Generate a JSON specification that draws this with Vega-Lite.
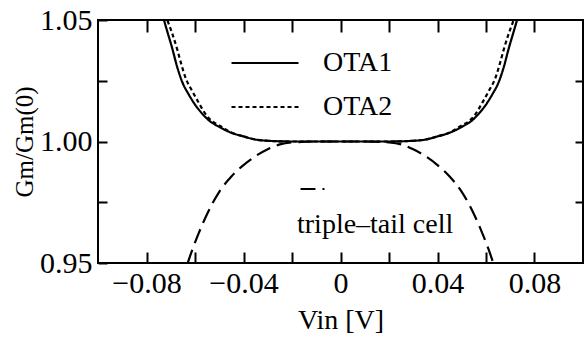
{
  "$schema": "https://vega.github.io/schema/vega-lite/v6.json",
  "width": 485,
  "height": 243,
  "autosize": "none",
  "padding": {"left": 98, "top": 20, "right": 1, "bottom": 75},
  "background": "white",
  "config": {
    "view": {"stroke": "black", "strokeWidth": 2},
    "font": "Liberation Serif",
    "axis": {"grid": false, "domain": false, "titleFontWeight": "normal"}
  },
  "datasets": {
    "curves": [
      {"series": "OTA1", "vin": -0.075, "gm": 1.058},
      {"series": "OTA1", "vin": -0.0728, "gm": 1.05},
      {"series": "OTA1", "vin": -0.0712, "gm": 1.0445},
      {"series": "OTA1", "vin": -0.0694, "gm": 1.0384},
      {"series": "OTA1", "vin": -0.0675, "gm": 1.0312},
      {"series": "OTA1", "vin": -0.0653, "gm": 1.0246},
      {"series": "OTA1", "vin": -0.0625, "gm": 1.0192},
      {"series": "OTA1", "vin": -0.06, "gm": 1.0152},
      {"series": "OTA1", "vin": -0.0575, "gm": 1.012},
      {"series": "OTA1", "vin": -0.0544, "gm": 1.0088},
      {"series": "OTA1", "vin": -0.05, "gm": 1.006},
      {"series": "OTA1", "vin": -0.045, "gm": 1.0036},
      {"series": "OTA1", "vin": -0.04, "gm": 1.0021},
      {"series": "OTA1", "vin": -0.035, "gm": 1.0008},
      {"series": "OTA1", "vin": -0.03, "gm": 1.0003},
      {"series": "OTA1", "vin": -0.02, "gm": 1.0},
      {"series": "OTA1", "vin": -0.01, "gm": 1.0},
      {"series": "OTA1", "vin": 0, "gm": 1.0},
      {"series": "OTA1", "vin": 0.01, "gm": 1.0},
      {"series": "OTA1", "vin": 0.02, "gm": 1.0},
      {"series": "OTA1", "vin": 0.03, "gm": 1.0003},
      {"series": "OTA1", "vin": 0.035, "gm": 1.0008},
      {"series": "OTA1", "vin": 0.04, "gm": 1.0021},
      {"series": "OTA1", "vin": 0.045, "gm": 1.0036},
      {"series": "OTA1", "vin": 0.05, "gm": 1.006},
      {"series": "OTA1", "vin": 0.0544, "gm": 1.0088},
      {"series": "OTA1", "vin": 0.0575, "gm": 1.012},
      {"series": "OTA1", "vin": 0.06, "gm": 1.0152},
      {"series": "OTA1", "vin": 0.0625, "gm": 1.0192},
      {"series": "OTA1", "vin": 0.0653, "gm": 1.0246},
      {"series": "OTA1", "vin": 0.0675, "gm": 1.0312},
      {"series": "OTA1", "vin": 0.0694, "gm": 1.0384},
      {"series": "OTA1", "vin": 0.0712, "gm": 1.0445},
      {"series": "OTA1", "vin": 0.0728, "gm": 1.05},
      {"series": "OTA1", "vin": 0.075, "gm": 1.058},

      {"series": "OTA2", "vin": -0.074, "gm": 1.058},
      {"series": "OTA2", "vin": -0.0714, "gm": 1.05},
      {"series": "OTA2", "vin": -0.0694, "gm": 1.0445},
      {"series": "OTA2", "vin": -0.0673, "gm": 1.0378},
      {"series": "OTA2", "vin": -0.0657, "gm": 1.032},
      {"series": "OTA2", "vin": -0.064, "gm": 1.0265},
      {"series": "OTA2", "vin": -0.061, "gm": 1.0205},
      {"series": "OTA2", "vin": -0.0585, "gm": 1.016},
      {"series": "OTA2", "vin": -0.055, "gm": 1.0104},
      {"series": "OTA2", "vin": -0.0531, "gm": 1.0085},
      {"series": "OTA2", "vin": -0.05, "gm": 1.0066},
      {"series": "OTA2", "vin": -0.045, "gm": 1.0037},
      {"series": "OTA2", "vin": -0.04, "gm": 1.0021},
      {"series": "OTA2", "vin": -0.035, "gm": 1.0008},
      {"series": "OTA2", "vin": -0.03, "gm": 1.0003},
      {"series": "OTA2", "vin": -0.02, "gm": 1.0},
      {"series": "OTA2", "vin": -0.01, "gm": 1.0},
      {"series": "OTA2", "vin": 0, "gm": 1.0},
      {"series": "OTA2", "vin": 0.01, "gm": 1.0},
      {"series": "OTA2", "vin": 0.02, "gm": 1.0},
      {"series": "OTA2", "vin": 0.03, "gm": 1.0003},
      {"series": "OTA2", "vin": 0.035, "gm": 1.0008},
      {"series": "OTA2", "vin": 0.04, "gm": 1.0021},
      {"series": "OTA2", "vin": 0.045, "gm": 1.0037},
      {"series": "OTA2", "vin": 0.05, "gm": 1.0066},
      {"series": "OTA2", "vin": 0.0531, "gm": 1.0085},
      {"series": "OTA2", "vin": 0.055, "gm": 1.0104},
      {"series": "OTA2", "vin": 0.0585, "gm": 1.016},
      {"series": "OTA2", "vin": 0.061, "gm": 1.0205},
      {"series": "OTA2", "vin": 0.064, "gm": 1.0265},
      {"series": "OTA2", "vin": 0.0657, "gm": 1.032},
      {"series": "OTA2", "vin": 0.0673, "gm": 1.0378},
      {"series": "OTA2", "vin": 0.0694, "gm": 1.0445},
      {"series": "OTA2", "vin": 0.0714, "gm": 1.05},
      {"series": "OTA2", "vin": 0.074, "gm": 1.058},

      {"series": "triple-tail cell", "vin": -0.066, "gm": 0.941},
      {"series": "triple-tail cell", "vin": -0.063, "gm": 0.95},
      {"series": "triple-tail cell", "vin": -0.061, "gm": 0.9558},
      {"series": "triple-tail cell", "vin": -0.0585, "gm": 0.9622},
      {"series": "triple-tail cell", "vin": -0.055, "gm": 0.9702},
      {"series": "triple-tail cell", "vin": -0.05, "gm": 0.9793},
      {"series": "triple-tail cell", "vin": -0.045, "gm": 0.9856},
      {"series": "triple-tail cell", "vin": -0.04, "gm": 0.9903},
      {"series": "triple-tail cell", "vin": -0.035, "gm": 0.994},
      {"series": "triple-tail cell", "vin": -0.03, "gm": 0.9968},
      {"series": "triple-tail cell", "vin": -0.025, "gm": 0.9988},
      {"series": "triple-tail cell", "vin": -0.02, "gm": 0.9996},
      {"series": "triple-tail cell", "vin": -0.01, "gm": 1.0},
      {"series": "triple-tail cell", "vin": 0, "gm": 1.0},
      {"series": "triple-tail cell", "vin": 0.01, "gm": 1.0},
      {"series": "triple-tail cell", "vin": 0.02, "gm": 0.9996},
      {"series": "triple-tail cell", "vin": 0.025, "gm": 0.9988},
      {"series": "triple-tail cell", "vin": 0.03, "gm": 0.9968},
      {"series": "triple-tail cell", "vin": 0.035, "gm": 0.994},
      {"series": "triple-tail cell", "vin": 0.04, "gm": 0.9903},
      {"series": "triple-tail cell", "vin": 0.045, "gm": 0.9856},
      {"series": "triple-tail cell", "vin": 0.05, "gm": 0.9793},
      {"series": "triple-tail cell", "vin": 0.055, "gm": 0.9702},
      {"series": "triple-tail cell", "vin": 0.0585, "gm": 0.9622},
      {"series": "triple-tail cell", "vin": 0.061, "gm": 0.9558},
      {"series": "triple-tail cell", "vin": 0.063, "gm": 0.95},
      {"series": "triple-tail cell", "vin": 0.066, "gm": 0.941}
    ]
  },
  "resolve": {
    "axis": {"x": "independent", "y": "independent"},
    "scale": {"strokeDash": "independent"},
    "legend": {"strokeDash": "independent"}
  },
  "layer": [
    {
      "data": {"name": "curves"},
      "transform": [{"filter": "datum.series != 'triple-tail cell'"}],
      "mark": {"type": "line", "clip": true, "strokeWidth": 2.2, "color": "black", "interpolate": "monotone"},
      "encoding": {
        "x": {
          "field": "vin", "type": "quantitative",
          "scale": {"domain": [-0.1, 0.1], "nice": false, "zero": false},
          "axis": {
            "orient": "bottom",
            "title": "Vin [V]",
            "titleFont": "Liberation Serif",
            "titleFontSize": 28,
            "titlePadding": 8,
            "offset": -11,
            "tickSize": 11,
            "tickColor": "black",
            "tickWidth": 2,
            "values": [-0.08, -0.06, -0.04, -0.02, 0, 0.02, 0.04, 0.06, 0.08],
            "labelExpr": "datum.value == 0 ? '0' : (abs(round(datum.value * 100)) % 4 == 0 ? format(datum.value, '.2f') : '')",
            "labelFont": "Liberation Serif",
            "labelFontSize": 30,
            "labelPadding": 5
          }
        },
        "y": {
          "field": "gm", "type": "quantitative",
          "scale": {"domain": [0.95, 1.05], "nice": false, "zero": false},
          "axis": {
            "orient": "left",
            "title": "Gm/Gm(0)",
            "titleFont": "Liberation Serif",
            "titleFontSize": 25,
            "titlePadding": 2,
            "offset": -9,
            "tickSize": 9,
            "tickColor": "black",
            "tickWidth": 2,
            "values": [0.95, 0.975, 1.0, 1.025, 1.05],
            "labelExpr": "abs(datum.value - 0.975) < 0.001 || abs(datum.value - 1.025) < 0.001 ? '' : format(datum.value, '.2f')",
            "labelFont": "Liberation Serif",
            "labelFontSize": 30,
            "labelPadding": 6
          }
        },
        "strokeDash": {
          "field": "series", "type": "nominal",
          "scale": {"domain": ["OTA1", "OTA2"], "range": [[1, 0], [4, 3]]},
          "legend": {
            "orient": "none",
            "legendX": 132,
            "legendY": 29,
            "direction": "vertical",
            "title": null,
            "padding": 0,
            "symbolType": "stroke",
            "symbolSize": 4489,
            "symbolStrokeWidth": 2.2,
            "symbolStrokeColor": "black",
            "clipHeight": 28,
            "rowPadding": 16,
            "labelOffset": 23,
            "labelFont": "Liberation Serif",
            "labelFontSize": 28,
            "labelColor": "black",
            "labelLimit": 300
          }
        }
      }
    },
    {
      "data": {"name": "curves"},
      "transform": [{"filter": "datum.series == 'triple-tail cell'"}],
      "mark": {"type": "line", "clip": true, "strokeWidth": 2.2, "color": "black", "interpolate": "monotone"},
      "encoding": {
        "x": {"field": "vin", "type": "quantitative", "axis": null},
        "y": {"field": "gm", "type": "quantitative", "axis": null},
        "strokeDash": {
          "field": "series", "type": "nominal",
          "scale": {"domain": ["triple-tail cell"], "range": [[15, 7]]},
          "legend": {
            "orient": "none",
            "legendX": 199,
            "legendY": 159,
            "direction": "vertical",
            "title": "triple–tail cell",
            "titleOrient": "bottom",
            "titleAnchor": "start",
            "titleFont": "Liberation Serif",
            "titleFontSize": 28,
            "titleFontWeight": "normal",
            "titleColor": "black",
            "titleLimit": 400,
            "titlePadding": 12,
            "padding": 0,
            "symbolType": "stroke",
            "symbolSize": 4624,
            "symbolStrokeWidth": 2.2,
            "symbolStrokeColor": "black",
            "symbolOffset": -42,
            "clipHeight": 20,
            "labelOpacity": 0,
            "labelFontSize": 1
          }
        }
      }
    },
    {
      "data": {"name": "curves"},
      "mark": {"type": "point", "opacity": 0},
      "encoding": {
        "x": {
          "field": "vin", "type": "quantitative",
          "axis": {
            "orient": "top", "title": null, "labels": false,
            "values": [-0.08, -0.06, -0.04, -0.02, 0, 0.02, 0.04, 0.06, 0.08],
            "offset": -12, "tickSize": 12, "tickColor": "black", "tickWidth": 2
          }
        },
        "y": {
          "field": "gm", "type": "quantitative",
          "axis": {
            "orient": "right", "title": null, "labels": false,
            "values": [0.975, 1.0, 1.025],
            "offset": -8, "tickSize": 8, "tickColor": "black", "tickWidth": 2
          }
        }
      }
    }
  ]
}
